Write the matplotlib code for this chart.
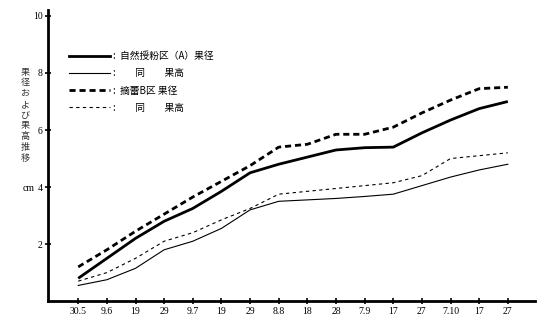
import matplotlib
matplotlib.use("Agg")
import matplotlib.pyplot as plt
from matplotlib.lines import Line2D

plt.rcParams['font.family'] = ['Noto Sans CJK JP', 'DejaVu Sans']

# 調査日 (日.月)
dates = ["30.5", "9.6", "19", "29", "9.7", "19", "29", "8.8", "18", "28",
         "7.9", "17", "27", "7.10", "17", "27"]

# 自然授粉区(A)
a_diam = [0.8, 1.5, 2.2, 2.8, 3.25, 3.85, 4.5, 4.8, 5.05, 5.3,
          5.38, 5.4, 5.9, 6.35, 6.75, 7.0]
a_height = [0.55, 0.75, 1.15, 1.8, 2.1, 2.55, 3.2, 3.5, 3.55, 3.6,
            3.67, 3.75, 4.05, 4.35, 4.6, 4.8]
# 摘蕾B区
b_diam = [1.2, 1.8, 2.45, 3.05, 3.65, 4.2, 4.75, 5.4, 5.5, 5.85,
          5.85, 6.1, 6.6, 7.05, 7.45, 7.5]
b_height = [0.7, 1.0, 1.5, 2.1, 2.4, 2.85, 3.25, 3.75, 3.85, 3.95,
            4.05, 4.15, 4.4, 5.0, 5.1, 5.2]

labels = [":  自然授粉区（A）果径", ":　　同　　果高", ":  摘蕾B区 果径", ":　　同　　果高"]

fig = plt.figure(figsize=(5.41, 3.2), dpi=100)
ax = fig.add_axes([0.089, 0.059, 0.90, 0.909])

x = list(range(len(dates)))
ax.plot(x, a_diam, color='black', lw=2.0, solid_capstyle='butt')
ax.plot(x, a_height, color='black', lw=0.8)
ax.plot(x, b_diam, color='black', lw=2.0, dashes=(2.2, 1.4))
ax.plot(x, b_height, color='black', lw=0.8, dashes=(3, 3))

ax.set_xlim(-1.05, 15.95)
ax.set_ylim(0, 10.2)
ax.set_xticks(x)
ax.set_xticklabels(dates, fontsize=7, family='Liberation Serif')
ax.set_yticks([2, 4, 6, 8, 10])
ax.set_yticklabels(['2', '4', '6', '8', '10'], fontsize=7, family='Liberation Serif')
ax.tick_params(axis='both', direction='inout', length=4, width=1.2, pad=2)

for s in ['top', 'right']:
    ax.spines[s].set_visible(False)
ax.spines['left'].set_linewidth(2)
ax.spines['bottom'].set_linewidth(2)

handles = [
    Line2D([], [], color='black', lw=2.0),
    Line2D([], [], color='black', lw=0.8),
    Line2D([], [], color='black', lw=2.0, dashes=(2.2, 1.4)),
    Line2D([], [], color='black', lw=0.8, dashes=(3, 3)),
]
ax.legend(handles, labels, loc='upper left', bbox_to_anchor=(0.025, 0.89),
          frameon=False, fontsize=7, handlelength=4.2, handletextpad=0.3,
          labelspacing=0.75)

fig.text(0.046, 0.64, "\n".join("果径および果高推移"), fontsize=6.5,
         ha='center', va='center', linespacing=1.25, color='#333333')
fig.text(0.052, 0.41, "cm", fontsize=7, ha='center', va='center',
         family='Liberation Serif')

fig.savefig("out.png", dpi=100)
